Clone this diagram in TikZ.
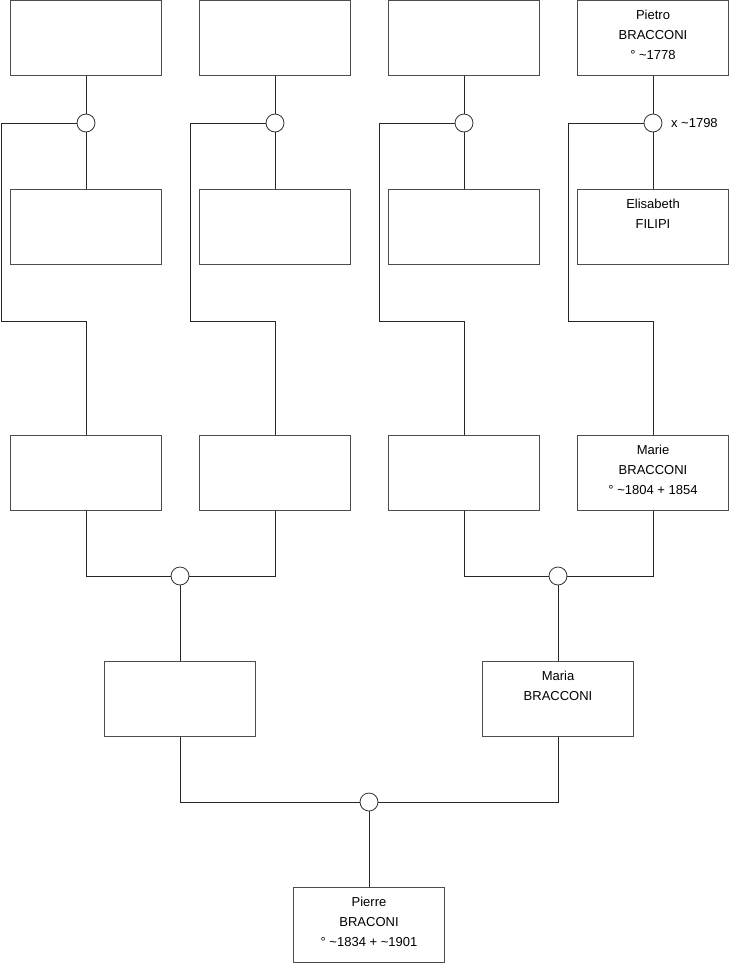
\documentclass[tikz,border=0pt]{standalone}
\usepackage{fontspec}
\setmainfont{Liberation Sans}
\usepackage{tikz}
\usetikzlibrary{positioning}

\begin{document}
\begin{tikzpicture}[
    x=0.75pt, y=-0.75pt,
    person/.style={rectangle, draw=black!70, line width=0.75pt, fill=white, minimum width=151*0.75pt, minimum height=75*0.75pt, inner sep=0pt},
    who/.style={anchor=north, align=center, inner sep=0pt, yshift=-7.6pt, font=\fontsize{9.75}{15}\selectfont},
    union/.style={circle, draw=black!80, line width=0.6pt, fill=white, minimum size=18*0.75pt, inner sep=0pt},
    link/.style={draw=black!85, line width=0.75pt},
]
\useasboundingbox (0,0) rectangle (740,975);

% Nodes
\node[person] (a1) at (86,38) {};
\node[person] (a2) at (275,38) {};
\node[person] (a3) at (464,38) {};
\node[person, label={[who]north:Pietro\\BRACCONI\\° \textasciitilde1778}] (a4) at (653,38) {};

\node[person] (b1) at (86,227) {};
\node[person] (b2) at (275,227) {};
\node[person] (b3) at (464,227) {};
\node[person, label={[who]north:Elisabeth\\FILIPI}] (b4) at (653,227) {};

\node[person] (c1) at (86,472.5) {};
\node[person] (c2) at (275,472.5) {};
\node[person] (c3) at (464,472.5) {};
\node[person, label={[who]north:Marie\\BRACCONI\\° \textasciitilde1804 + 1854}] (c4) at (653,472.5) {};

\node[person] (d1) at (180,699) {};
\node[person, label={[who]north:Maria\\BRACCONI}] (d2) at (558,699) {};

\node[person, label={[who]north:Pierre\\BRACONI\\° \textasciitilde1834 + \textasciitilde1901}] (root) at (369,925) {};

% Unions
\node[union] (u1) at (86,123) {};
\node[union] (u2) at (275,123) {};
\node[union] (u3) at (464,123) {};
\node[union] (u4) at (653,123) {};
\node[union] (v1) at (180,576) {};
\node[union] (v2) at (558,576) {};
\node[union] (w) at (369,802) {};

\node[right=3pt of u4, font=\fontsize{9.75}{11}\selectfont] (m4) {x \textasciitilde1798};

% Bends
\coordinate (j1) at (1,321);
\coordinate (j2) at (190,321);
\coordinate (j3) at (379,321);
\coordinate (j4) at (568,321);

% Couples
\draw[link] (a1) -- (u1) -- (b1);
\draw[link] (a2) -- (u2) -- (b2);
\draw[link] (a3) -- (u3) -- (b3);
\draw[link] (a4) -- (u4) -- (b4);

% Children
\draw[link] (u1.west) -| (j1) -| (c1.north);
\draw[link] (u2.west) -| (j2) -| (c2.north);
\draw[link] (u3.west) -| (j3) -| (c3.north);
\draw[link] (u4.west) -| (j4) -| (c4.north);

\draw[link] (c1.south) |- (v1.west);
\draw[link] (c2.south) |- (v1.east);
\draw[link] (c3.south) |- (v2.west);
\draw[link] (c4.south) |- (v2.east);
\draw[link] (v1) -- (d1);
\draw[link] (v2) -- (d2);

\draw[link] (d1.south) |- (w.west);
\draw[link] (d2.south) |- (w.east);
\draw[link] (w) -- (root);

\end{tikzpicture}
\end{document}
